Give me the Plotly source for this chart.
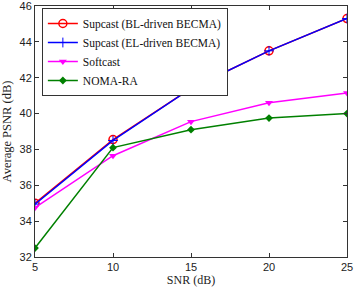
import plotly.graph_objects as go

snr = [5, 10, 15, 20, 25]
supcast_bl = [35.0, 38.55, 41.4, 43.5, 45.3]
supcast_el = [34.95, 38.5, 41.4, 43.5, 45.3]
softcast = [34.75, 37.65, 39.55, 40.6, 41.15]
noma_ra = [32.5, 38.1, 39.1, 39.75, 40.0]

SERIF = "Liberation Serif"
SANS = "Liberation Sans"

fig = go.Figure()
fig.add_trace(go.Scatter(x=snr, y=supcast_bl, name="Supcast (BL-driven BECMA)", mode="lines+markers",
                         line=dict(color="#ff0000", width=1.5),
                         marker=dict(symbol="circle-open", size=8, color="#ff0000", line=dict(width=1.5))))
fig.add_trace(go.Scatter(x=snr, y=supcast_el, name="Supcast (EL-driven BECMA)", mode="lines+markers",
                         line=dict(color="#0000ff", width=1.5),
                         marker=dict(symbol="cross-thin-open", size=7, color="#0000ff", line=dict(width=1, color="#0000ff"))))
fig.add_trace(go.Scatter(x=snr, y=softcast, name="Softcast", mode="lines+markers",
                         line=dict(color="#ff00ff", width=1.5),
                         marker=dict(symbol="triangle-down", size=7, color="#ff00ff")))
fig.add_trace(go.Scatter(x=snr, y=noma_ra, name="NOMA-RA", mode="lines+markers",
                         line=dict(color="#008000", width=1.5),
                         marker=dict(symbol="diamond", size=6, color="#008000")))

axis_common = dict(showgrid=False, zeroline=False, ticks="inside", ticklen=4, tickwidth=1,
                   tickcolor="#333", showline=True, linecolor="#333", linewidth=1, mirror="ticks",
                   automargin=False, ticklabeloverflow="allow",
                   tickfont=dict(family=SANS, size=11, color="#222"))
fig.update_xaxes(range=[5, 25], tickvals=[5, 10, 15, 20, 25],
                 title=dict(text="SNR (dB)", font=dict(family=SERIF, size=12, color="#222"), standoff=2),
                 **axis_common)
fig.update_yaxes(range=[32, 46], tickvals=[32, 34, 36, 38, 40, 42, 44, 46],
                 title=dict(text="Average PSNR (dB)", font=dict(family=SERIF, size=12.5, color="#222"), standoff=5),
                 **axis_common)

fig.update_layout(width=354, height=291, margin=dict(l=35, r=7, t=6, b=34),
                  plot_bgcolor="white", paper_bgcolor="white",
                  legend=dict(x=0.022, y=0.992, xanchor="left", yanchor="top",
                              bordercolor="#333", borderwidth=1, bgcolor="white",
                              font=dict(family=SERIF, size=11.5, color="#111"),
                              tracegroupgap=0, itemwidth=30))
fig.write_html("out.html", config={"displayModeBar": False},
               post_script="document.body.style.margin='0';document.body.style.overflow='hidden';")
